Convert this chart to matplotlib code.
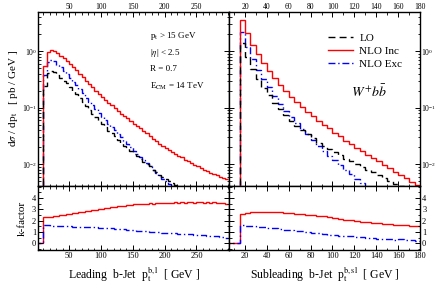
import numpy as np
import matplotlib
matplotlib.use("Agg")
import matplotlib.pyplot as plt
from matplotlib.lines import Line2D
from matplotlib.ticker import MultipleLocator

plt.rcParams['font.family'] = ['Liberation Serif', 'DejaVu Serif']
plt.rcParams['mathtext.fontset'] = 'stix'

# leading b-jet, 5 GeV bins from 10 to 300 GeV
lead_edges = np.arange(10, 305, 5)
lead_inc = [0.55, 0.98, 1.05, 1.02, 0.93, 0.83, 0.76, 0.68, 0.60, 0.52,
            0.46, 0.40, 0.35, 0.30, 0.26, 0.23, 0.20, 0.174, 0.155, 0.138,
            0.123, 0.110, 0.098, 0.087, 0.079, 0.071, 0.065, 0.058, 0.052, 0.047,
            0.043, 0.038, 0.035, 0.032, 0.028, 0.026, 0.023, 0.021, 0.0195, 0.0178,
            0.0166, 0.0151, 0.0141, 0.0132, 0.0120, 0.0112, 0.0105, 0.0098, 0.0091, 0.0085,
            0.0079, 0.0076, 0.0071, 0.0068, 0.0063, 0.0060, 0.0058, 0.0054]
lead_lo = [0.24, 0.42, 0.45, 0.43, 0.38, 0.34, 0.30, 0.27, 0.23, 0.197,
           0.172, 0.147, 0.126, 0.106, 0.091, 0.079, 0.068, 0.058, 0.051, 0.045,
           0.039, 0.035, 0.031, 0.027, 0.024, 0.0214, 0.0193, 0.0171, 0.0152, 0.0137,
           0.0124, 0.0109, 0.0100, 0.0091, 0.0080, 0.0073, 0.0065, 0.0059, 0.0055, 0.0050,
           0.0047, 0.0042, 0.0040, 0.0036, 0.0034, 0.0031, 0.0029, 0.0027, 0.0025, 0.0023,
           0.0022, 0.0021, 0.0020, 0.0019, 0.0018, 0.0017, 0.0016, 0.0016]
lead_exc = [0.38, 0.66, 0.70, 0.67, 0.58, 0.52, 0.45, 0.40, 0.34, 0.29,
            0.25, 0.213, 0.181, 0.152, 0.129, 0.111, 0.095, 0.080, 0.070, 0.061,
            0.052, 0.046, 0.040, 0.034, 0.030, 0.026, 0.023, 0.0198, 0.0173, 0.0153,
            0.0135, 0.0117, 0.0105, 0.0093, 0.0080, 0.0071, 0.0062, 0.0055, 0.0050, 0.0045,
            0.0040, 0.0037, 0.0033, 0.0030, 0.0027, 0.0024, 0.0023, 0.0020, 0.0019, 0.0016,
            0.0016, 0.0014, 0.0013, 0.0011, 0.0011, 0.0009, 0.0009, 0.0008]
lead_k_inc = [2.30, 2.32, 2.35, 2.38, 2.42, 2.46, 2.50, 2.55, 2.60, 2.64,
              2.68, 2.73, 2.77, 2.82, 2.86, 2.90, 2.95, 3.00, 3.04, 3.08,
              3.12, 3.16, 3.20, 3.24, 3.28, 3.32, 3.36, 3.40, 3.42, 3.44,
              3.46, 3.48, 3.50, 3.52, 3.50, 3.54, 3.55, 3.53, 3.56, 3.58,
              3.55, 3.60, 3.57, 3.62, 3.58, 3.60, 3.64, 3.57, 3.62, 3.66,
              3.58, 3.60, 3.55, 3.62, 3.58, 3.52, 3.56, 3.48]
lead_k_exc = [1.60, 1.58, 1.56, 1.55, 1.53, 1.52, 1.51, 1.50, 1.48, 1.47,
              1.46, 1.45, 1.44, 1.43, 1.42, 1.40, 1.39, 1.38, 1.37, 1.35,
              1.33, 1.31, 1.29, 1.27, 1.24, 1.21, 1.19, 1.16, 1.14, 1.12,
              1.09, 1.07, 1.05, 1.02, 1.00, 0.97, 0.95, 0.93, 0.91, 0.89,
              0.86, 0.88, 0.82, 0.84, 0.79, 0.78, 0.80, 0.74, 0.76, 0.70,
              0.72, 0.66, 0.64, 0.60, 0.62, 0.55, 0.57, 0.50]

# subleading b-jet, 5 GeV bins from 15 to 180 GeV
sub_edges = np.arange(15, 185, 5)
sub_inc = [3.6, 2.09, 1.32, 0.89, 0.63, 0.457, 0.339, 0.257, 0.200, 0.158,
           0.126, 0.102, 0.085, 0.071, 0.059, 0.050, 0.043, 0.036, 0.031, 0.026,
           0.023, 0.0195, 0.017, 0.0148, 0.0129, 0.0112, 0.0098, 0.0085, 0.0074, 0.0065,
           0.0056, 0.0049, 0.0043]
sub_lo = [1.38, 0.78, 0.485, 0.324, 0.228, 0.166, 0.123, 0.094, 0.074, 0.059,
          0.048, 0.040, 0.034, 0.029, 0.024, 0.021, 0.0187, 0.0164, 0.0144, 0.0125,
          0.0114, 0.0099, 0.0089, 0.0080, 0.0072, 0.0064, 0.0057, 0.0051, 0.0045, 0.0041,
          0.0035, 0.0032, 0.0029]
sub_exc = [2.18, 1.21, 0.73, 0.47, 0.324, 0.229, 0.162, 0.118, 0.089, 0.068,
           0.053, 0.042, 0.034, 0.027, 0.021, 0.0168, 0.0142, 0.0118, 0.0098, 0.0080,
           0.0068, 0.0054, 0.0046, 0.0038, 0.0031, 0.0026, 0.0022, 0.0018, 0.0014, 0.0014,
           0.0009, 0.0008, 0.0006]
sub_k_inc = [2.60, 2.68, 2.72, 2.75, 2.76, 2.76, 2.75, 2.73, 2.70, 2.66,
             2.62, 2.57, 2.52, 2.47, 2.42, 2.37, 2.30, 2.20, 2.15, 2.08,
             2.02, 1.97, 1.90, 1.85, 1.78, 1.74, 1.72, 1.66, 1.64, 1.60,
             1.58, 1.53, 1.50]
sub_k_exc = [1.58, 1.55, 1.50, 1.46, 1.42, 1.38, 1.32, 1.25, 1.20, 1.15,
             1.10, 1.05, 1.00, 0.92, 0.86, 0.80, 0.76, 0.72, 0.68, 0.64,
             0.60, 0.55, 0.52, 0.48, 0.43, 0.40, 0.38, 0.35, 0.30, 0.33,
             0.27, 0.25, 0.22]

RED = '#ff0000'
BLUE = '#0000ff'
lw = 1.0
styles = {'lo': dict(color='black', ls=(0, (5, 3)), lw=lw),
          'inc': dict(color=RED, ls='-', lw=lw),
          'exc': dict(color=BLUE, ls=(0, (5, 2, 1, 2)), lw=lw)}


def pad(edges, vals, fill, nfront):
    # add empty bins in front so the histogram rises from the floor
    e = np.concatenate([edges[0] - 5 * np.arange(nfront, 0, -1), edges])
    v = np.concatenate([np.full(nfront, fill), vals])
    return e, v


fig = plt.figure(figsize=(4.41, 2.84), dpi=100)
top_b, top_h = 0.345, 0.613
bot_b, bot_h = 0.1197, 0.2254
axTL = fig.add_axes([0.0868, top_b, 0.4324, top_h])
axTR = fig.add_axes([0.5193, top_b, 0.4331, top_h])
axBL = fig.add_axes([0.0868, bot_b, 0.4324, bot_h])
axBR = fig.add_axes([0.5193, bot_b, 0.4331, bot_h])

for ax, edges, lo, inc, exc in [(axTL, lead_edges, lead_lo, lead_inc, lead_exc),
                                (axTR, sub_edges, sub_lo, sub_inc, sub_exc)]:
    for key, vals in [('exc', exc), ('inc', inc), ('lo', lo)]:
        e, v = pad(edges, vals, 1e-6, 2)
        ax.stairs(v, e, baseline=None, **styles[key])
    ax.set_yscale('log')
    ax.set_ylim(0.0041, 5.0)

for ax, edges, kinc, kexc in [(axBL, lead_edges, lead_k_inc, lead_k_exc),
                              (axBR, sub_edges, sub_k_inc, sub_k_exc)]:
    e, v = pad(edges, kinc, 0.0, 3)
    ax.stairs(v, e, baseline=None, **styles['inc'])
    e, v = pad(edges, kexc, 0.0, 3)
    ax.stairs(v, e, baseline=None, **styles['exc'])
    ax.set_ylim(-0.6, 5.05)
    ax.yaxis.set_minor_locator(MultipleLocator(0.5))
    ax.set_yticks([0, 1, 2, 3, 4])

for ax in (axTL, axBL):
    ax.set_xlim(2, 301)
    ax.set_xticks([50, 100, 150, 200, 250])
    ax.xaxis.set_minor_locator(MultipleLocator(10))
for ax in (axTR, axBR):
    ax.set_xlim(5.4, 180)
    ax.xaxis.set_major_locator(MultipleLocator(20))
    ax.xaxis.set_minor_locator(MultipleLocator(10))

for ax in (axTL, axTR, axBL, axBR):
    ax.tick_params(which='both', direction='in', top=True, right=True,
                   labelsize=6, pad=1.5)
    ax.tick_params(which='major', length=3.5, width=0.7)
    ax.tick_params(which='minor', length=1.8, width=0.6)
    for s in ax.spines.values():
        s.set_linewidth(1.0)

for ax in (axTL, axTR):
    ax.tick_params(labeltop=True, labelbottom=False, labelsize=5.5, pad=1)
axTR.tick_params(labelleft=False, labelright=True)
axBR.tick_params(labelleft=False, labelright=True)

axTL.set_ylabel(r'd$\sigma$ / dp$_\mathrm{t}$   [ pb / GeV ]', fontsize=8, labelpad=1)
axBL.set_ylabel('k-factor', fontsize=8, labelpad=4)
axBL.set_xlabel(r'Leading  b-Jet  p$_\mathrm{t}^{\mathrm{b,l}}$  [ GeV ]', fontsize=8.5, labelpad=3)
axBR.set_xlabel(r'Subleading  b-Jet  p$_\mathrm{t}^{\mathrm{b,sl}}$  [ GeV ]', fontsize=8.5, labelpad=3)

notes = [r'p$_\mathrm{t}$ > 15 GeV', r'|$\eta$| < 2.5', 'R = 0.7', r'E$_\mathrm{CM}$ = 14 TeV']
for i, txt in enumerate(notes):
    axTL.text(0.585, 0.86 - i * 0.095, txt, transform=axTL.transAxes,
              fontsize=6.5, va='center', ha='left')

handles = [Line2D([], [], **styles['lo']), Line2D([], [], **styles['inc']),
           Line2D([], [], **styles['exc'])]
axTR.legend(handles, ['LO', 'NLO Inc', 'NLO Exc'], loc='upper right',
            bbox_to_anchor=(0.96, 0.935), frameon=False, fontsize=8,
            handlelength=2.2, labelspacing=0.3, handletextpad=0.6)
axTR.text(0.73, 0.54, r'$W^{+}b\bar{b}$', transform=axTR.transAxes,
          fontsize=10, ha='center', va='center')

fig.savefig('out.png', dpi=100)
